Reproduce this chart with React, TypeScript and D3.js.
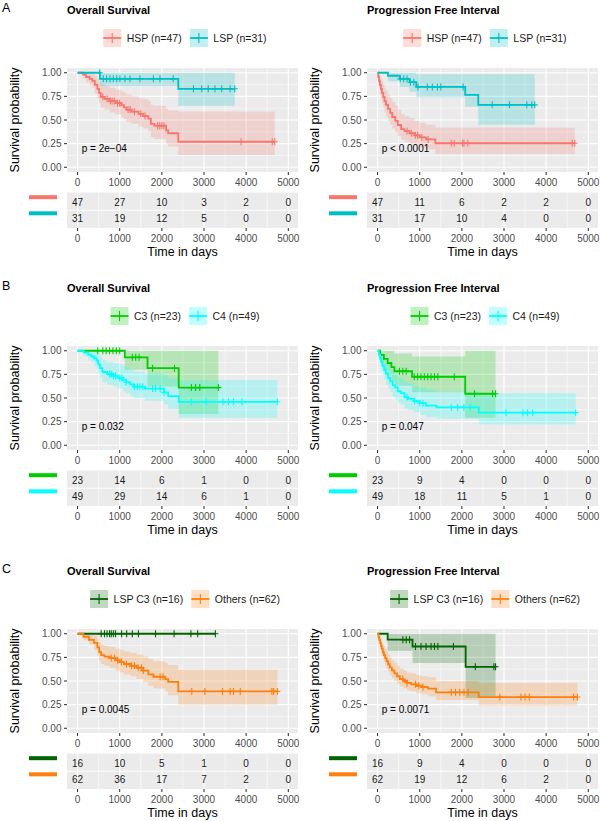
import React from "react";
import * as d3 from "d3";

const FONT = "'Liberation Sans', Arial, Helvetica, sans-serif";

const timeTicks = [0, 1000, 2000, 3000, 4000, 5000];
const timeMinor = [500, 1500, 2500, 3500, 4500];
const survTicks = [0, 0.25, 0.5, 0.75, 1];
const survMinor = [0.125, 0.375, 0.625, 0.875];
const survTickLabels = ["0.00", "0.25", "0.50", "0.75", "1.00"];

type Step = [number, number, number, number]; // time, survival, lower, upper

// ---- A: Overall Survival ----
const osHspSteps: Step[] = [[0,1,1,1],[130,0.979,0.94,1],[200,0.957,0.90,1],[290,0.936,0.87,1],[350,0.915,0.84,0.99],[410,0.872,0.78,0.97],[470,0.83,0.73,0.94],[510,0.787,0.68,0.91],[550,0.745,0.63,0.88],[640,0.723,0.61,0.86],[760,0.70,0.58,0.84],[900,0.678,0.56,0.82],[1040,0.656,0.53,0.80],[1100,0.633,0.51,0.79],[1160,0.61,0.48,0.77],[1280,0.588,0.46,0.75],[1450,0.565,0.43,0.73],[1560,0.541,0.41,0.72],[1680,0.515,0.38,0.70],[1740,0.46,0.32,0.66],[1820,0.44,0.30,0.65],[2100,0.39,0.25,0.62],[2150,0.36,0.22,0.60],[2390,0.27,0.13,0.59]];
const osHspCensor = [600,700,780,820,870,950,1000,1200,1250,1350,1500,1600,1900,1950,2000,2050,3880,4620,4680];
const osHspEnd = 4680;
const osHspRisk = [47, 27, 10, 3, 2, 0];

const osLspSteps: Step[] = [[0,1,1,1],[530,0.935,0.86,1],[2390,0.83,0.65,1]];
const osLspCensor = [525,610,690,770,850,930,1005,1125,1245,1480,1800,1955,2270,2750,2945,3100,3260,3420,3620,3730];
const osLspEnd = 3730;
const osLspRisk = [31, 19, 12, 5, 0, 0];

// ---- A: Progression Free Interval ----
const pfiHspSteps: Step[] = [[0,1,1,1],[15,0.957,0.90,1],[35,0.915,0.84,0.99],[55,0.872,0.78,0.97],[80,0.83,0.73,0.94],[105,0.787,0.68,0.91],[135,0.745,0.63,0.88],[165,0.70,0.58,0.84],[200,0.66,0.54,0.81],[250,0.617,0.49,0.77],[300,0.575,0.45,0.73],[350,0.532,0.41,0.69],[420,0.49,0.37,0.65],[480,0.447,0.33,0.61],[560,0.404,0.29,0.56],[640,0.383,0.27,0.54],[760,0.36,0.25,0.52],[880,0.338,0.23,0.49],[1000,0.316,0.21,0.47],[1150,0.295,0.19,0.45],[1370,0.254,0.14,0.42]];
const pfiHspCensor = [700,800,900,950,1050,1200,1750,1820,2020,2050,2140,4620,4680];
const pfiHspEnd = 4680;
const pfiHspRisk = [47, 11, 6, 2, 2, 0];

const pfiLspSteps: Step[] = [[0,1,1,1],[245,0.968,0.91,1],[530,0.935,0.85,1],[760,0.90,0.80,1],[920,0.85,0.74,0.985],[2080,0.765,0.64,0.985],[2390,0.66,0.45,0.985]];
const pfiLspCensor = [540,620,700,780,860,960,1180,1300,1420,1500,2030,2720,3130,3540,3660,3730];
const pfiLspEnd = 3730;
const pfiLspRisk = [31, 17, 10, 4, 0, 0];

// ---- B: Overall Survival ----
const osC3Steps: Step[] = [[0,1,1,1],[1120,0.93,0.80,1],[1660,0.815,0.62,1],[2400,0.61,0.33,1]];
const osC3Censor = [480,600,680,760,840,920,1000,1300,1380,1460,1780,2300,2700,2800,2900,3340];
const osC3End = 3340;
const osC3Risk = [23, 14, 6, 1, 0, 0];

const osC4Steps: Step[] = [[0,1,1,1],[150,0.98,0.94,1],[250,0.959,0.90,1],[330,0.939,0.87,1],[400,0.918,0.84,1],[450,0.898,0.81,0.99],[490,0.857,0.76,0.96],[530,0.816,0.72,0.93],[590,0.775,0.67,0.90],[700,0.755,0.64,0.88],[850,0.734,0.62,0.87],[950,0.712,0.60,0.86],[1080,0.69,0.57,0.84],[1150,0.667,0.55,0.82],[1250,0.644,0.52,0.80],[1330,0.62,0.50,0.78],[1600,0.60,0.47,0.76],[2050,0.56,0.43,0.74],[2150,0.52,0.38,0.71],[2400,0.46,0.29,0.69]];
const osC4Censor = [760,800,850,900,1000,1050,1150,1350,1420,1480,1550,1780,1850,1960,2050,2700,3050,3450,3580,3700,3900,4740];
const osC4End = 4740;
const osC4Risk = [49, 29, 14, 6, 1, 0];

// ---- B: Progression Free Interval ----
const pfiC3Steps: Step[] = [[0,1,1,1],[60,0.957,0.88,1],[150,0.913,0.80,1],[240,0.87,0.74,1],[330,0.826,0.68,1],[400,0.783,0.63,0.97],[820,0.725,0.56,0.94],[2080,0.545,0.29,1]];
const pfiC3Censor = [520,600,680,870,950,1030,1110,1190,1270,1350,1430,1820,2300,2730,2800];
const pfiC3End = 2800;
const pfiC3Risk = [23, 9, 4, 0, 0, 0];

const pfiC4Steps: Step[] = [[0,1,1,1],[30,0.959,0.90,1],[60,0.918,0.84,1],[90,0.878,0.79,0.98],[120,0.837,0.74,0.95],[160,0.796,0.69,0.92],[200,0.755,0.64,0.88],[250,0.714,0.60,0.85],[300,0.673,0.56,0.81],[360,0.633,0.51,0.78],[420,0.612,0.49,0.76],[480,0.571,0.45,0.72],[560,0.551,0.43,0.70],[640,0.51,0.39,0.67],[720,0.49,0.37,0.65],[860,0.468,0.35,0.63],[1000,0.445,0.32,0.61],[1150,0.42,0.30,0.59],[1400,0.40,0.28,0.57],[2400,0.345,0.22,0.55]];
const pfiC4Censor = [700,880,1000,1080,1750,1900,2050,2200,3050,3450,3560,3680,4700];
const pfiC4End = 4700;
const pfiC4Risk = [49, 18, 11, 5, 1, 0];

// ---- C: Overall Survival ----
const osLspC3Steps: Step[] = [[0,1,1,1]];
const osLspC3Censor = [560,640,700,760,800,850,900,1045,1165,1300,1445,1850,2290,2690,2850,3270];
const osLspC3End = 3270;
const osLspC3Risk = [16, 10, 5, 1, 0, 0];

const osOthersSteps: Step[] = [[0,1,1,1],[140,0.968,0.93,1],[270,0.935,0.89,0.99],[390,0.903,0.83,0.98],[470,0.855,0.77,0.95],[515,0.806,0.71,0.91],[560,0.774,0.68,0.88],[640,0.758,0.66,0.87],[760,0.742,0.64,0.86],[900,0.72,0.61,0.84],[1000,0.70,0.59,0.83],[1100,0.68,0.57,0.81],[1250,0.66,0.55,0.80],[1400,0.64,0.52,0.78],[1560,0.61,0.49,0.76],[1680,0.57,0.45,0.73],[1800,0.545,0.42,0.71],[2080,0.52,0.39,0.69],[2150,0.49,0.35,0.67],[2390,0.39,0.25,0.62]];
const osOthersCensor = [800,880,950,1040,1160,1280,1350,1440,1520,1560,1960,2030,2710,3020,3440,3620,3700,3860,4610,4650,4740];
const osOthersEnd = 4740;
const osOthersRisk = [62, 36, 17, 7, 2, 0];

// ---- C: Progression Free Interval ----
const pfiLspC3Steps: Step[] = [[0,1,1,1],[240,0.9375,0.82,1],[830,0.865,0.69,1],[2090,0.65,0.32,1]];
const pfiLspC3Censor = [600,680,760,900,1030,1150,1270,1350,1430,1800,2320,2760,2800];
const pfiLspC3End = 2800;
const pfiLspC3Risk = [16, 9, 4, 0, 0, 0];

const pfiOthersSteps: Step[] = [[0,1,1,1],[20,0.968,0.93,1],[40,0.935,0.88,0.99],[60,0.903,0.84,0.97],[80,0.871,0.80,0.95],[100,0.839,0.77,0.92],[125,0.806,0.73,0.89],[150,0.774,0.70,0.87],[180,0.742,0.66,0.84],[215,0.71,0.63,0.81],[250,0.677,0.60,0.78],[290,0.645,0.56,0.75],[340,0.613,0.53,0.72],[400,0.58,0.50,0.69],[460,0.55,0.47,0.66],[530,0.52,0.44,0.63],[620,0.50,0.42,0.61],[700,0.48,0.40,0.59],[800,0.465,0.39,0.58],[920,0.45,0.37,0.56],[1050,0.435,0.36,0.55],[1200,0.42,0.34,0.54],[1390,0.38,0.30,0.50],[2400,0.33,0.24,0.48]];
const pfiOthersCensor = [600,700,900,980,1080,1750,1850,1950,2050,2150,2900,3400,3500,3600,4650,4740];
const pfiOthersEnd = 4740;
const pfiOthersRisk = [62, 19, 12, 6, 2, 0];

const colHSP = "#F8766D";
const colLSP = "#00BFC4";
const colC3 = "#00CD00";
const colC4 = "#00FFFF";
const colLspC3 = "#006400";
const colOthers = "#FF7F0E";

interface Group { label: string; color: string; steps: Step[]; censor: number[]; end: number; risk: number[]; }
interface PanelSpec { letter: string; title: string; pval: string; row: number; col: number; groups: Group[]; }

const panels: PanelSpec[] = [
  { letter: "A", title: "Overall Survival", pval: "p = 2e\u221204", row: 0, col: 0, groups: [
    { label: "HSP (n=47)", color: colHSP, steps: osHspSteps, censor: osHspCensor, end: osHspEnd, risk: osHspRisk },
    { label: "LSP (n=31)", color: colLSP, steps: osLspSteps, censor: osLspCensor, end: osLspEnd, risk: osLspRisk }] },
  { letter: "", title: "Progression Free Interval", pval: "p < 0.0001", row: 0, col: 1, groups: [
    { label: "HSP (n=47)", color: colHSP, steps: pfiHspSteps, censor: pfiHspCensor, end: pfiHspEnd, risk: pfiHspRisk },
    { label: "LSP (n=31)", color: colLSP, steps: pfiLspSteps, censor: pfiLspCensor, end: pfiLspEnd, risk: pfiLspRisk }] },
  { letter: "B", title: "Overall Survival", pval: "p = 0.032", row: 1, col: 0, groups: [
    { label: "C3 (n=23)", color: colC3, steps: osC3Steps, censor: osC3Censor, end: osC3End, risk: osC3Risk },
    { label: "C4 (n=49)", color: colC4, steps: osC4Steps, censor: osC4Censor, end: osC4End, risk: osC4Risk }] },
  { letter: "", title: "Progression Free Interval", pval: "p = 0.047", row: 1, col: 1, groups: [
    { label: "C3 (n=23)", color: colC3, steps: pfiC3Steps, censor: pfiC3Censor, end: pfiC3End, risk: pfiC3Risk },
    { label: "C4 (n=49)", color: colC4, steps: pfiC4Steps, censor: pfiC4Censor, end: pfiC4End, risk: pfiC4Risk }] },
  { letter: "C", title: "Overall Survival", pval: "p = 0.0045", row: 2, col: 0, groups: [
    { label: "LSP C3 (n=16)", color: colLspC3, steps: osLspC3Steps, censor: osLspC3Censor, end: osLspC3End, risk: osLspC3Risk },
    { label: "Others (n=62)", color: colOthers, steps: osOthersSteps, censor: osOthersCensor, end: osOthersEnd, risk: osOthersRisk }] },
  { letter: "", title: "Progression Free Interval", pval: "p = 0.0071", row: 2, col: 1, groups: [
    { label: "LSP C3 (n=16)", color: colLspC3, steps: pfiLspC3Steps, censor: pfiLspC3Censor, end: pfiLspC3End, risk: pfiLspC3Risk },
    { label: "Others (n=62)", color: colOthers, steps: pfiOthersSteps, censor: pfiOthersCensor, end: pfiOthersEnd, risk: pfiOthersRisk }] },
];

const rowOffsets = [0, 278, 561];
const colOffsets = [0, 300];

let measureCtx: CanvasRenderingContext2D | null = null;
function measure(text: string, font: string): number {
  if (!measureCtx) {
    const c = document.createElement("canvas");
    measureCtx = c.getContext("2d");
  }
  if (!measureCtx) return text.length * 5.4;
  measureCtx.font = font;
  return measureCtx.measureText(text).width;
}

function survAt(steps: Step[], t: number): number {
  let s = steps[0][1];
  for (const st of steps) if (st[0] <= t) s = st[1];
  return s;
}

const PL = 67, PR = 298, PT = 68, PB = 172;
const TT = 192.5, TB = 228;

function Panel({ spec }: { spec: PanelSpec }) {
  const ox = colOffsets[spec.col];
  const oy = rowOffsets[spec.row];
  const x = d3.scaleLinear().domain([-250, 5230]).range([PL, PR]);
  const y = d3.scaleLinear().domain([-0.05, 1.05]).range([PB, PT]);
  const rowY = d3.scalePoint<string>().domain(spec.groups.map(g => g.label)).range([TT, TB]).padding(0.6);

  const line = d3.line<[number, number]>().x(d => x(d[0])).y(d => y(d[1])).curve(d3.curveStepAfter);
  const area = d3.area<Step>().x(d => x(d[0])).y0(d => y(d[2])).y1(d => y(d[3])).curve(d3.curveStepAfter);

  // legend layout
  const legFont = `10.5px ${FONT}`;
  const keyW = 18, gapKT = 5.5, gapTK = 8;
  const widths = spec.groups.map(g => measure(g.label, legFont));
  const total = spec.groups.length * (keyW + gapKT) + d3.sum(widths) + gapTK * (spec.groups.length - 1);
  let lx = 185 - total / 2;
  const legendItems = spec.groups.map((g, i) => {
    const item = { g, kx: lx, tx: lx + keyW + gapKT };
    lx += keyW + gapKT + widths[i] + gapTK;
    return item;
  });
  const legY = 38;

  return (
    <g transform={`translate(${ox},${oy})`} fontFamily={FONT}>
      {spec.letter && <text x={2} y={12} fontSize={12.5} fill="#000">{spec.letter}</text>}
      <text x={PL} y={13.5} fontSize={11} fontWeight="bold" fill="#000">{spec.title}</text>

      {/* legend */}
      {legendItems.map(({ g, kx, tx }) => (
        <g key={g.label}>
          <rect x={kx} y={legY - keyW / 2} width={keyW} height={keyW} fill={g.color} fillOpacity={0.25} />
          <line x1={kx} x2={kx + keyW} y1={legY} y2={legY} stroke={g.color} strokeWidth={1.8} />
          <line x1={kx + keyW / 2} x2={kx + keyW / 2} y1={legY - 5} y2={legY + 5} stroke={g.color} strokeWidth={1.1} />
          <text x={tx} y={legY + 3.8} fontSize={10.5} fill="#1a1a1a">{g.label}</text>
        </g>
      ))}

      {/* KM panel */}
      <rect x={PL} y={PT} width={PR - PL} height={PB - PT} fill="#EBEBEB" />
      {survMinor.map(v => <line key={"ym" + v} x1={PL} x2={PR} y1={y(v)} y2={y(v)} stroke="#fff" strokeWidth={0.55} />)}
      {timeMinor.map(v => <line key={"xm" + v} x1={x(v)} x2={x(v)} y1={PT} y2={PB} stroke="#fff" strokeWidth={0.55} />)}
      {survTicks.map(v => <line key={"yM" + v} x1={PL} x2={PR} y1={y(v)} y2={y(v)} stroke="#fff" strokeWidth={1.1} />)}
      {timeTicks.map(v => <line key={"xM" + v} x1={x(v)} x2={x(v)} y1={PT} y2={PB} stroke="#fff" strokeWidth={1.1} />)}

      {spec.groups.map(g => {
        const last = g.steps[g.steps.length - 1];
        const pts: Step[] = [...g.steps, [g.end, last[1], last[2], last[3]]];
        return <path key={"band" + g.label} d={area(pts) || ""} fill={g.color} fillOpacity={0.22} stroke="none" />;
      })}
      {spec.groups.map(g => {
        const last = g.steps[g.steps.length - 1];
        const pts: [number, number][] = [...g.steps.map(s => [s[0], s[1]] as [number, number]), [g.end, last[1]]];
        return <path key={"line" + g.label} d={line(pts) || ""} fill="none" stroke={g.color} strokeWidth={1.8} />;
      })}
      {spec.groups.map(g => (
        <g key={"cens" + g.label} stroke={g.color} strokeWidth={1.1}>
          {g.censor.map((t, i) => {
            const cx = x(t), cy = y(survAt(g.steps, t));
            return <path key={i} d={`M${cx},${cy - 3.5}V${cy + 3.5}M${cx - 3},${cy}H${cx + 3}`} />;
          })}
        </g>
      ))}

      <text x={x(100)} y={y(0.2) + 3.6} fontSize={10} fill="#000">{spec.pval}</text>

      {/* y axis */}
      {survTicks.map((v, i) => (
        <g key={"yt" + v}>
          <line x1={PL - 3} x2={PL} y1={y(v)} y2={y(v)} stroke="#333" strokeWidth={1.07} />
          <text x={PL - 5.5} y={y(v) + 3.5} fontSize={10} textAnchor="end" fill="#4D4D4D">{survTickLabels[i]}</text>
        </g>
      ))}
      <text transform={`translate(18.5,${(PT + PB) / 2}) rotate(-90)`} fontSize={12.5} textAnchor="middle" fill="#000">Survival probability</text>

      {/* x axis of KM */}
      {timeTicks.map(v => (
        <g key={"xt" + v}>
          <line x1={x(v)} x2={x(v)} y1={PB} y2={PB + 3} stroke="#333" strokeWidth={1.07} />
          <text x={x(v)} y={PB + 13.6} fontSize={10} textAnchor="middle" fill="#4D4D4D">{v}</text>
        </g>
      ))}

      {/* risk table */}
      <rect x={PL} y={TT} width={PR - PL} height={TB - TT} fill="#EBEBEB" />
      {timeMinor.map(v => <line key={"rxm" + v} x1={x(v)} x2={x(v)} y1={TT} y2={TB} stroke="#fff" strokeWidth={0.55} />)}
      {timeTicks.map(v => <line key={"rxM" + v} x1={x(v)} x2={x(v)} y1={TT} y2={TB} stroke="#fff" strokeWidth={1.1} />)}
      <line x1={PL} x2={PR} y1={(TT + TB) / 2} y2={(TT + TB) / 2} stroke="#fff" strokeWidth={1.1} />
      {spec.groups.map(g => (
        <g key={"risk" + g.label}>
          <rect x={29} y={(rowY(g.label) as number) - 7} width={28} height={4} fill={g.color} />
          {g.risk.map((n, i) => (
            <text key={i} x={x(timeTicks[i])} y={(rowY(g.label) as number) + 3.6} fontSize={10} textAnchor="middle" fill="#1a1a1a">{n}</text>
          ))}
        </g>
      ))}
      {timeTicks.map(v => (
        <g key={"rt" + v}>
          <line x1={x(v)} x2={x(v)} y1={TB} y2={TB + 3} stroke="#333" strokeWidth={1.07} />
          <text x={x(v)} y={TB + 13.5} fontSize={10} textAnchor="middle" fill="#4D4D4D">{v}</text>
        </g>
      ))}
      <text x={(PL + PR) / 2} y={256} fontSize={12.5} textAnchor="middle" fill="#000">Time in days</text>
    </g>
  );
}

export default function App() {
  return (
    <svg width={600} height={821} viewBox="0 0 600 821" style={{ position: "absolute", left: 0, top: 0, background: "#fff" }}>
      <rect x={0} y={0} width={600} height={821} fill="#fff" />
      {panels.map((p, i) => <Panel key={i} spec={p} />)}
    </svg>
  );
}
